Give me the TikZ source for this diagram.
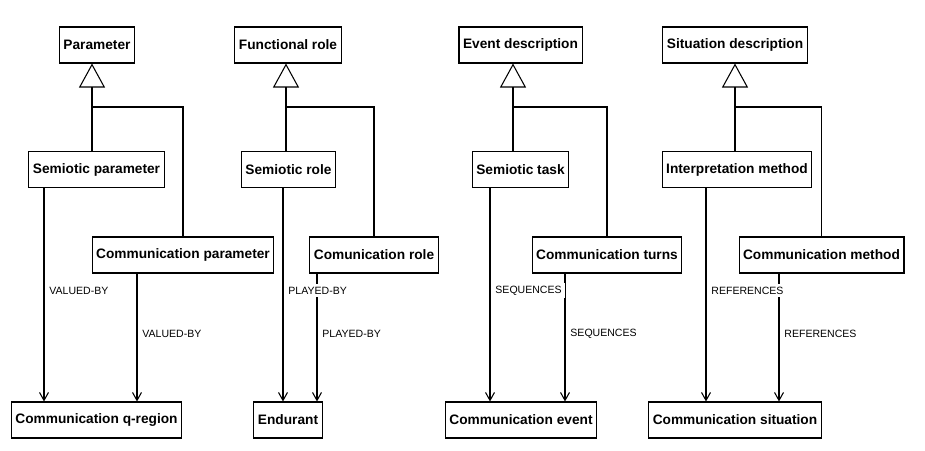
\documentclass[tikz,border=0pt]{standalone}
\usepackage{fontspec}
\setmainfont{Liberation Sans}
\usepackage{tikz}
\usetikzlibrary{arrows.meta,calc}
\tikzset{cls/.style={draw,semithick,font=\bfseries\fontsize{7.8}{9}\selectfont,minimum height=0.72cm,inner xsep=2.3pt}}
\tikzset{assoc/.style={-{Straight Barb[length=1.6mm,width=1.8mm]},semithick}}
\tikzset{isa/.style={-{Triangle[open,length=4.8mm,width=5.2mm]},semithick}}
\tikzset{rel/.style={font=\fontsize{6}{7}\selectfont,fill=white,inner sep=1.8pt,right,xshift=1pt}}
\tikzset{every picture/.append style={x=0.02cm,y=-0.02cm}}

\begin{document}
\begin{tikzpicture}
\useasboundingbox (0,0) rectangle (925,450);
% parameter
\node (param) at (97,45)[cls]{Parameter};
\node (sempar) at (96.5,169.5)[cls]{Semiotic parameter};
\node (compar) at (183,255)[cls]{Communication parameter};
\node (qreg) at (96.5,420)[cls]{Communication q-region};
\coordinate (j1) at (92,107);
\coordinate (v1) at (44,0);
\coordinate (w1) at (137,0);

\draw[isa] (j1) -- (param.south -| j1);
\draw[semithick] (j1) -- (sempar.north -| j1);
\draw[semithick] (j1) -| (compar.north);
\draw[assoc] (compar.south -| w1) -- (qreg.north -| w1) node[pos=0.47,rel] (lw1) {VALUED-BY};
\draw[assoc] (sempar.south -| v1) -- (qreg.north -| v1) node[pos=0.48,rel] (lv1) {VALUED-BY};

% role
\node (funrole) at (288,45)[cls]{Functional role};
\node (semrole) at (288.5,169.5)[cls]{Semiotic role};
\node (comrole) at (374,255)[cls]{Comunication role};
\node (endur) at (288,420)[cls]{Endurant};
\coordinate (j2) at (286,107);
\coordinate (v2) at (283,0);
\coordinate (w2) at (317,0);

\draw[isa] (j2) -- (funrole.south -| j2);
\draw[semithick] (j2) -- (semrole.north -| j2);
\draw[semithick] (j2) -| (comrole.north);
\draw[assoc] (comrole.south -| w2) -- (endur.north -| w2) node[pos=0.47,rel] (lw2) {PLAYED-BY};
\draw[assoc] (semrole.south -| v2) -- (endur.north -| v2) node[pos=0.48,rel] (lv2) {PLAYED-BY};

% event
\node (evdesc) at (520.5,45)[cls]{Event description};
\node (semtask) at (520.5,169.5)[cls]{Semiotic task};
\node (comturn) at (607,255)[cls]{Communication turns};
\node (comev) at (521,420)[cls]{Communication event};
\coordinate (j3) at (513,107);
\coordinate (v3) at (490,0);
\coordinate (w3) at (565,0);

\draw[isa] (j3) -- (evdesc.south -| j3);
\draw[semithick] (j3) -- (semtask.north -| j3);
\draw[semithick] (j3) -| (comturn.north);
\draw[assoc] (comturn.south -| w3) -- (comev.north -| w3) node[pos=0.47,rel] (lw3) {SEQUENCES};
\draw[assoc] (semtask.south -| v3) -- (comev.north -| v3) node[pos=0.48,rel] (lv3) {SEQUENCES};

% situation
\node (sitdesc) at (735,45)[cls]{Situation description};
\node (interp) at (737,169.5)[cls]{Interpretation method};
\node (commeth) at (821.5,255)[cls]{Communication method};
\node (comsit) at (735,420)[cls]{Communication situation};
\coordinate (j4) at (735,107);
\coordinate (v4) at (706,0);
\coordinate (w4) at (779,0);

\draw[isa] (j4) -- (sitdesc.south -| j4);
\draw[semithick] (j4) -- (interp.north -| j4);
\draw[semithick] (j4) -| (commeth.north);
\draw[assoc] (commeth.south -| w4) -- (comsit.north -| w4) node[pos=0.47,rel] (lw4) {REFERENCES};
\draw[assoc] (interp.south -| v4) -- (comsit.north -| v4) node[pos=0.48,rel] (lv4) {REFERENCES};
\end{tikzpicture}
\end{document}
